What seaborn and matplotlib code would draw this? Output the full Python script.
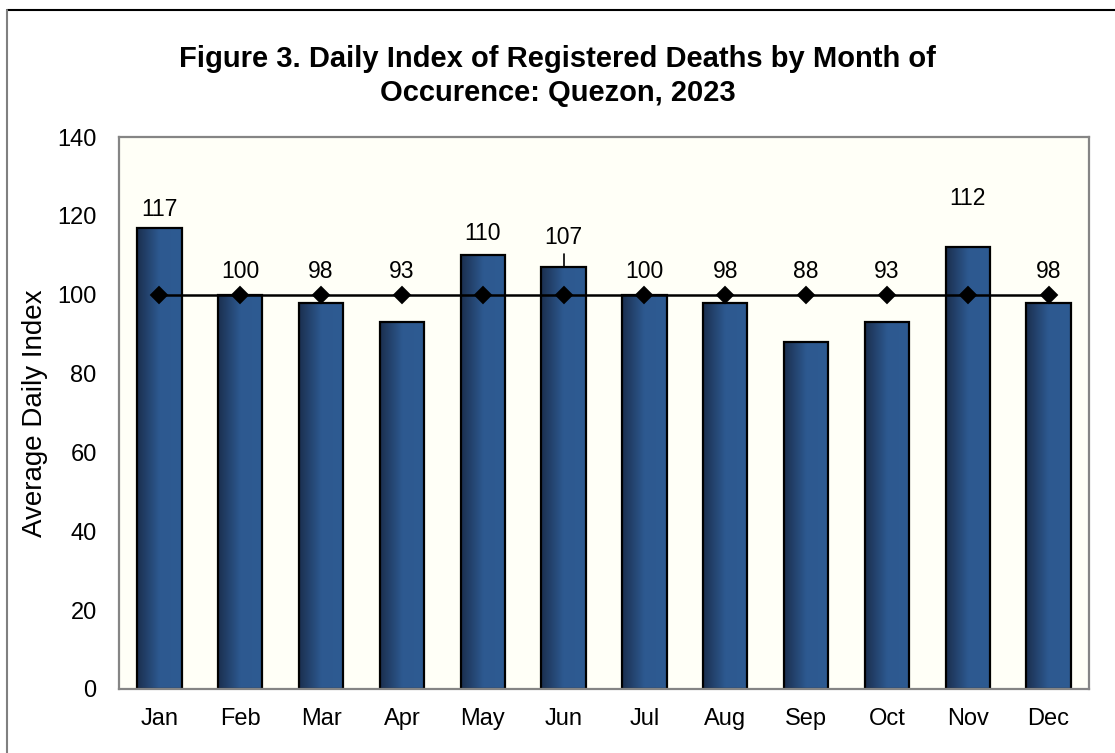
import numpy as np
import matplotlib
matplotlib.use("Agg")
import matplotlib.pyplot as plt
from matplotlib.colors import LinearSegmentedColormap
from matplotlib.lines import Line2D
import seaborn as sns

# data
months = ["Jan", "Feb", "Mar", "Apr", "May", "Jun", "Jul", "Aug", "Sep", "Oct", "Nov", "Dec"]
daily_index = [117, 100, 98, 93, 110, 107, 100, 98, 88, 93, 112, 98]
average_line = [100] * 12

title = "Figure 3. Daily Index of Registered Deaths by Month of\nOccurence: Quezon, 2023"

# label nudges above the bar/marker (data units), as Excel placed them
label_nudge = [4.5, 6, 6, 6, 5.6, 7.4, 6, 6, 6, 6, 12.5, 6]

sns.set_theme(style="white")
plt.rcParams["font.family"] = ["Liberation Sans", "DejaVu Sans"]
plt.rcParams["text.color"] = "black"
plt.rcParams["axes.labelcolor"] = "black"

fig = plt.figure(figsize=(11.15, 7.53), dpi=100)
ax = fig.add_axes([0.1067, 0.085, 0.8700, 0.733])
ax.set_facecolor("#fffff7")

sns.barplot(x=months, y=daily_index, color="#2c5485", width=0.55,
            edgecolor="black", linewidth=1.6, saturation=1, ax=ax, zorder=2)

# gradient fill for the bars (dark left edge -> lighter center)
cmap = LinearSegmentedColormap.from_list(
    "bar", [(0, "#1b2f4f"), (0.5, "#2d5990"), (1, "#2e5b92")])
grad = np.linspace(0, 1, 256).reshape(1, -1)
for bar in ax.patches:
    x0, y0 = bar.get_x(), bar.get_y()
    w, h = bar.get_width(), bar.get_height()
    im = ax.imshow(grad, cmap=cmap, aspect="auto",
                   extent=[x0, x0 + w, y0, y0 + h], zorder=2.1)
    im.set_clip_path(bar)
    bar.set_facecolor("none")
    bar.set_zorder(2.2)

sns.pointplot(x=months, y=average_line, color="black", markers="D",
              linestyles="-", errorbar=None, markersize=8, linewidth=1.8,
              ax=ax, zorder=3)

for i, v in enumerate(daily_index):
    base = max(v, average_line[i])
    ax.text(i, base + label_nudge[i], str(v), ha="center", va="center",
            fontsize=16.5, color="black", zorder=4)
# leader line for June label
jun = months.index("Jun")
ax.plot([jun, jun], [daily_index[jun], daily_index[jun] + 3.3],
        color="black", lw=1.2, zorder=4)

ax.set_xlim(-0.5, 11.5)
ax.set_ylim(0, 140)
ax.set_yticks(range(0, 141, 20))
ax.tick_params(axis="both", length=0, labelsize=17, colors="black")
ax.tick_params(axis="y", pad=16)
ax.tick_params(axis="x", pad=14)
ax.set_ylabel("Average Daily Index", fontsize=20, labelpad=7)
ax.set_xlabel("")
for sp in ax.spines.values():
    sp.set_visible(True)
    sp.set_color("#858585")
    sp.set_linewidth(1.6)

fig.text(0.5, 0.899, title, fontsize=21, fontweight="bold", ha="center",
         va="center", color="black", linespacing=1.25)

# outer figure frame
fig.add_artist(Line2D([0.006, 1.0], [0.987, 0.987], color="black", lw=1.5,
                      transform=fig.transFigure))
fig.add_artist(Line2D([0.0065, 0.0065], [0.0, 0.987], color="#808080", lw=1.5,
                      transform=fig.transFigure))

fig.savefig("out.png", dpi=100)
